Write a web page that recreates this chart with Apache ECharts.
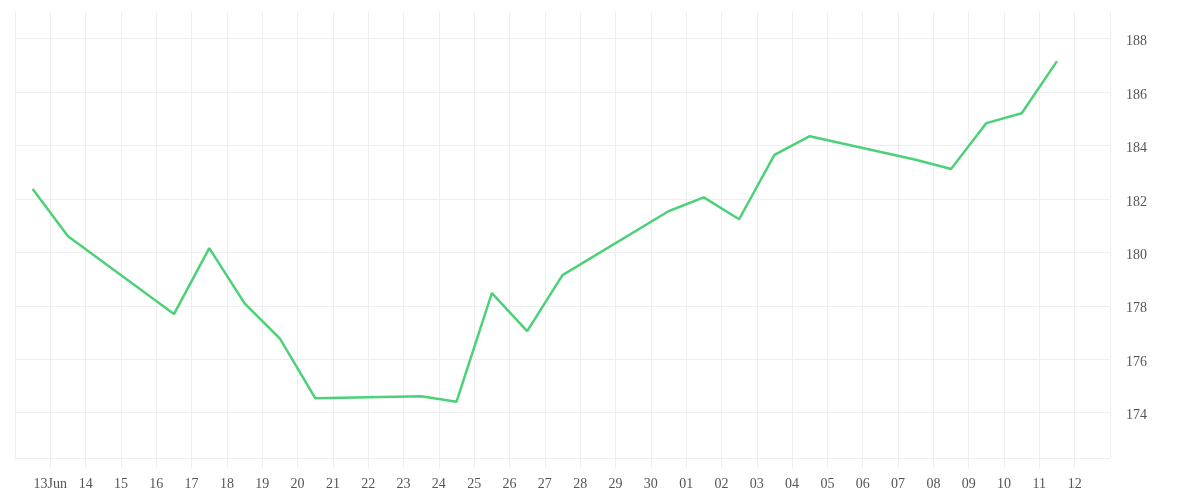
<!DOCTYPE html>
<html>
<head>
<meta charset="utf-8">
<script src="https://cdn.jsdelivr.net/npm/echarts@6/dist/echarts.min.js"></script>
<style>
  html, body { margin: 0; padding: 0; background: #ffffff; }
  #chart { width: 1200px; height: 500px; }
</style>
</head>
<body>
<div id="chart"></div>
<script>
// Data
const dates = [
  '2025-06-12', '2025-06-13', '2025-06-16', '2025-06-17', '2025-06-18', '2025-06-19',
  '2025-06-20', '2025-06-23', '2025-06-24', '2025-06-25', '2025-06-26', '2025-06-27',
  '2025-06-30', '2025-07-01', '2025-07-02', '2025-07-03', '2025-07-04', '2025-07-07',
  '2025-07-08', '2025-07-09', '2025-07-10', '2025-07-11'
];
const values = [
  182.37, 180.60, 177.69, 180.16, 178.09, 176.77,
  174.54, 174.61, 174.41, 178.47, 177.05, 179.15,
  181.54, 182.06, 181.24, 183.65, 184.35, 183.47,
  183.12, 184.84, 185.21, 187.16
];
const xStart = '2025-06-12';
const xEnd = '2025-07-13';
const yMin = 172.3;
const yMax = 189.0;

const DAY = 86400000;
function toMs(s, hour) {
  const p = s.split('-').map(Number);
  return Date.UTC(p[0], p[1] - 1, p[2], hour || 0);
}
const seriesData = dates.map((d, i) => [toMs(d, 12), values[i]]);

const gridColor = '#eeeeee';
const labelFont = '"Liberation Serif", "DejaVu Serif", serif';
const labelColor = '#555555';

const chart = echarts.init(document.getElementById('chart'), null, { renderer: 'canvas' });
chart.setOption({
  animation: false,
  backgroundColor: '#ffffff',
  grid: { left: 15, right: 90, top: 12, bottom: 42, containLabel: false },
  xAxis: {
    type: 'value',
    min: toMs(xStart),
    max: toMs(xEnd),
    interval: DAY,
    axisLine: { show: true, lineStyle: { color: gridColor, width: 1 } },
    axisTick: { show: true, length: 10, lineStyle: { color: gridColor, width: 1 } },
    splitLine: { show: true, lineStyle: { color: gridColor, width: 1 } },
    axisLabel: {
      show: true,
      margin: 19,
      showMinLabel: false,
      showMaxLabel: false,
      hideOverlap: false,
      interval: 0,
      fontFamily: labelFont,
      fontSize: 14,
      color: labelColor,
      formatter: function (v) {
        const d = new Date(v);
        const day = d.getUTCDate();
        const s = (day < 10 ? '0' : '') + day;
        if (day === 13 && d.getUTCMonth() === 5) return '13Jun';
        return s;
      }
    }
  },
  yAxis: {
    type: 'value',
    position: 'right',
    min: yMin,
    max: yMax,
    splitNumber: 8,
    axisLine: { show: false },
    axisTick: { show: false },
    splitLine: { show: true, showMinLine: true, showMaxLine: false, lineStyle: { color: gridColor, width: 1 } },
    axisLabel: {
      margin: 16,
      showMinLabel: false,
      showMaxLabel: false,
      fontFamily: labelFont,
      fontSize: 14,
      color: labelColor,
      formatter: function (v) { return '{a|' + Math.round(v) + '}'; },
      rich: {
        a: {
          fontFamily: labelFont,
          fontSize: 14,
          color: labelColor,
          padding: [6, 0, 0, 0]
        }
      }
    }
  },
  series: [{
    type: 'line',
    data: seriesData,
    showSymbol: false,
    symbol: 'none',
    smooth: false,
    lineStyle: { color: '#4cd178', width: 2.5 },
    itemStyle: { color: '#4cd178' }
  }]
});
</script>
</body>
</html>
